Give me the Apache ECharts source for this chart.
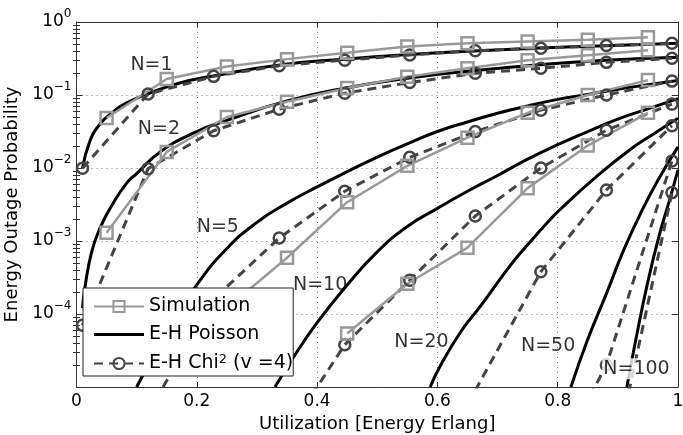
<!DOCTYPE html>
<html><head><meta charset="utf-8">
<script src="https://cdn.jsdelivr.net/npm/echarts@6/dist/echarts.min.js"></script>
<style>html,body{margin:0;padding:0;background:#fff}#c{width:683px;height:435px}</style>
</head><body><div id="c"></div>
<script>
// ---- data ----
const simX = [0.05, 0.15, 0.25, 0.35, 0.45, 0.55, 0.65, 0.75, 0.85, 0.95];
const simN1 = [0.0485, 0.166, 0.245, 0.31, 0.38, 0.46, 0.51, 0.54, 0.57, 0.62];
const simN2 = [1.3e-3, 0.0166, 0.05, 0.081, 0.125, 0.178, 0.232, 0.30, 0.35, 0.41];
const simN5 = [null, null, 1.2e-4, 5.9e-4, 3.4e-3, 0.0107, 0.026, 0.057, 0.10, 0.16];
const simN10 = [null, null, null, null, 5.4e-5, 2.6e-4, 8.1e-4, 5.3e-3, 0.0203, 0.057];

const chiX = [0.01, 0.119, 0.228, 0.337, 0.446, 0.554, 0.663, 0.772, 0.881, 0.99];
const chiN1 = [0.0099, 0.103, 0.18, 0.252, 0.30, 0.354, 0.405, 0.436, 0.475, 0.51];
const chiN2 = [7e-5, 0.0098, 0.0324, 0.064, 0.106, 0.148, 0.198, 0.232, 0.28, 0.318];
const chiN5 = [null, 4.4e-6, 1.6e-4, 1.1e-3, 4.8e-3, 0.014, 0.0315, 0.062, 0.10, 0.155];
const chiN10 = [null, null, null, 1.6e-6, 3.8e-5, 2.9e-4, 2.2e-3, 0.01, 0.033, 0.075];
const chiN20 = [null, null, null, null, null, null, 9e-6, 3.8e-4, 5e-3, 0.038];
const chiN50 = [null, null, null, null, null, null, null, 4e-7, 2e-5, 0.0125];
const chiN100 = [null, null, null, null, null, null, null, null, 3.3e-7, 4.6e-3];

const poisN1 = [[0.01,0.0099],[0.022,0.023],[0.039,0.040],[0.06,0.058],[0.081,0.076],[0.119,0.104],[0.17,0.145],[0.227,0.182],[0.335,0.256],[0.445,0.31],[0.553,0.358],[0.66,0.40],[0.77,0.44],[0.88,0.474],[1.0,0.51]];
const poisN2 = [[0.01,1.2e-4],[0.014,2.3e-4],[0.025,7e-4],[0.039,1.5e-3],[0.061,3.3e-3],[0.084,6.3e-3],[0.10,8.4e-3],[0.139,0.0166],[0.194,0.030],[0.25,0.045],[0.35,0.083],[0.45,0.126],[0.55,0.17],[0.66,0.215],[0.77,0.26],[0.88,0.30],[1.0,0.33]];
const poisN5 = [[0.10,1e-5],[0.15,5.6e-5],[0.20,2.5e-4],[0.25,7.9e-4],[0.30,1.8e-3],[0.35,3.3e-3],[0.40,5.5e-3],[0.45,8.9e-3],[0.50,0.0141],[0.55,0.0214],[0.60,0.0316],[0.65,0.0427],[0.70,0.0562],[0.75,0.0708],[0.80,0.0871],[0.85,0.102],[0.90,0.120],[0.95,0.138],[1.0,0.158]];
const poisN10 = [[0.33,1e-5],[0.36,2.5e-5],[0.40,7.6e-5],[0.45,2.5e-4],[0.50,7.1e-4],[0.55,1.58e-3],[0.60,2.8e-3],[0.65,4.8e-3],[0.70,7.9e-3],[0.75,0.0132],[0.80,0.0209],[0.85,0.0316],[0.90,0.0468],[0.95,0.0646],[1.0,0.0891]];
const poisN20 = [[0.588,1e-5],[0.604,1.9e-5],[0.64,5.9e-5],[0.671,1.26e-4],[0.72,4.5e-4],[0.75,8.9e-4],[0.787,1.95e-3],[0.804,2.7e-3],[0.86,7.1e-3],[0.92,0.0178],[0.96,0.0295],[1.0,0.0479]];
const poisN50 = [[0.822,1e-5],[0.85,4.5e-5],[0.881,1.9e-4],[0.91,7.6e-4],[0.94,2.6e-3],[0.97,7.6e-3],[1.0,0.0195]];
const poisN100 = [[0.915,1e-5],[0.93,4.5e-5],[0.95,2.8e-4],[0.97,1.3e-3],[0.985,3.4e-3],[1.0,9.4e-3]];

const curveLabels = ['N=1', 'N=2', 'N=5', 'N=10', 'N=20', 'N=50', 'N=100'];
const labelAnchors = [[0.1247,0.258],[0.137,0.0338],[0.235,1.54e-3],[0.405,2.5e-4],[0.5735,4.1e-5],[0.784,3.6e-5],[0.931,1.78e-5]];

const xTicks = [0, 0.2, 0.4, 0.6, 0.8, 1];
const yMin = 1e-5, yMax = 1;

// ---- chart ----
const FONT = 'DejaVu Sans';
const SIM = 'Simulation', POIS = 'E-H Poisson', CHI = 'E-H Chi2 (v =4)';
const pairUp = (xs, ys) => xs.map((x, i) => [x, ys[i]]).filter(p => p[1] !== null);

const series = [];
[poisN1, poisN2, poisN5, poisN10, poisN20, poisN50, poisN100].forEach(d => series.push({
  type: 'line', name: POIS, data: d, symbol: 'none', smooth: 0.5,
  lineStyle: { color: '#000', width: 3 }, itemStyle: { color: '#000' }, z: 2
}));
[chiN1, chiN2, chiN5, chiN10, chiN20, chiN50, chiN100].forEach(ys => series.push({
  type: 'line', name: CHI, data: pairUp(chiX, ys), symbol: 'circle', symbolSize: 11, showSymbol: true,
  lineStyle: { color: '#444', width: 3, type: [9, 6] },
  itemStyle: { color: 'rgba(255,255,255,0)', borderColor: '#444', borderWidth: 2.5 }, z: 2
}));
[simN1, simN2, simN5, simN10].forEach(ys => series.push({
  type: 'line', name: SIM, data: pairUp(simX, ys), symbol: 'rect', symbolSize: 12, showSymbol: true,
  lineStyle: { color: '#999', width: 2.5 },
  itemStyle: { color: 'rgba(255,255,255,0)', borderColor: '#999', borderWidth: 2.5 }, z: 2
}));
series.push({
  type: 'scatter', name: 'labels', silent: true, symbolSize: 0, z: 3,
  data: labelAnchors.map((p, i) => {
    const item = { value: p, name: curveLabels[i] };
    if (curveLabels[i] === 'N=100') item.label = { backgroundColor: '#fff', padding: [1, 1] };
    return item;
  }),
  label: { show: true, position: 'inside', formatter: '{b}', fontSize: 19, color: '#000', fontFamily: FONT }
});

const minorVals = [];
for (let e = -5; e < 0; e++) for (let k = 2; k <= 9; k++) minorVals.push(+(k * Math.pow(10, e)).toPrecision(3));

const frame = '#333';
const yLabelFmt = v => {
  const e = Math.round(Math.log10(v));
  if (e < -4) return '';
  return '{b|10}{s|' + (e === 0 ? '0' : '\u2212' + (-e)) + '}';
};
const logAxisBase = (pos) => ({
  type: 'log', logBase: 10, min: yMin, max: yMax, position: pos,
  axisLine: { show: true, onZero: false, lineStyle: { color: frame, width: 1 } },
  axisTick: { show: true, inside: true, length: 6, lineStyle: { color: frame } },
  axisLabel: { show: false }, splitLine: { show: false }
});

const option = {
  animation: false,
  backgroundColor: '#fff',
  textStyle: { fontFamily: FONT },
  grid: { left: 76.5, right: 5, top: 22, bottom: 48, containLabel: false, outerBoundsMode: 'none' },
  legend: {
    z: 10, zlevel: 0,
    left: 83, top: 288, orient: 'vertical', selectedMode: false,
    backgroundColor: '#fff', borderColor: '#222', borderWidth: 1, borderRadius: 0,
    padding: [9, 0, 3, 10], itemWidth: 50, itemHeight: 14, itemGap: 9,
    data: [{ name: SIM }, { name: POIS, icon: 'path://M0,0L50,0L50,3L0,3Z' }, { name: CHI }],
    formatter: n => n === CHI ? '{t|E-H Chi}{s|2}{t| (v =4)}' : n,
    textStyle: {
      fontSize: 19, color: '#000', fontFamily: FONT,
      rich: { t: { fontSize: 19, color: '#000', fontFamily: FONT }, s: { fontSize: 13, color: '#000', fontFamily: FONT, padding: [0, 0, 8, 0] } }
    }
  },
  xAxis: [{
    type: 'value', min: 0, max: 1, interval: 0.2, position: 'bottom',
    name: 'Utilization [Energy Erlang]', nameLocation: 'middle', nameGap: 28,
    nameTextStyle: { fontSize: 18, color: '#000', fontFamily: FONT },
    axisLine: { show: true, onZero: false, lineStyle: { color: frame, width: 1 } },
    axisTick: { show: true, inside: true, length: 5, lineStyle: { color: frame } },
    axisLabel: { fontSize: 17, color: '#000', margin: 6, fontFamily: FONT,
      formatter: v => xTicks.includes(+v.toFixed(2)) ? String(+v.toFixed(2)) : '' },
    splitLine: { show: true, lineStyle: { color: '#777', width: 1, type: [1, 4] } }
  }, {
    type: 'value', min: 0, max: 1, interval: 0.2, position: 'top',
    axisLine: { show: true, onZero: false, lineStyle: { color: frame, width: 1 } },
    axisTick: { show: true, inside: true, length: 5, lineStyle: { color: frame } },
    axisLabel: { show: false }, splitLine: { show: false }
  }],
  yAxis: [
    Object.assign(logAxisBase('left'), {
      name: 'Energy Outage Probability', nameLocation: 'middle', nameGap: 49,
      nameTextStyle: { fontSize: 18, color: '#000', fontFamily: FONT },
      axisLabel: { show: true, margin: 5, formatter: yLabelFmt,
        rich: { b: { fontSize: 17, color: '#000', fontFamily: FONT }, s: { fontSize: 12, color: '#000', fontFamily: FONT, padding: [0, 0, 16, 0] } } },
      splitLine: { show: true, lineStyle: { color: '#777', width: 1, type: [1, 4] } }
    }),
    logAxisBase('right'),
    Object.assign(logAxisBase('left'), { axisLine: { show: false }, axisTick: { show: true, inside: true, length: 3.5, customValues: minorVals, lineStyle: { color: frame } } }),
    Object.assign(logAxisBase('right'), { axisLine: { show: false }, axisTick: { show: true, inside: true, length: 3.5, customValues: minorVals, lineStyle: { color: frame } } })
  ],
  series: series
};
const chart = echarts.init(document.getElementById('c'), null, { renderer: 'canvas' });
chart.setOption(option);
</script>
</body></html>
